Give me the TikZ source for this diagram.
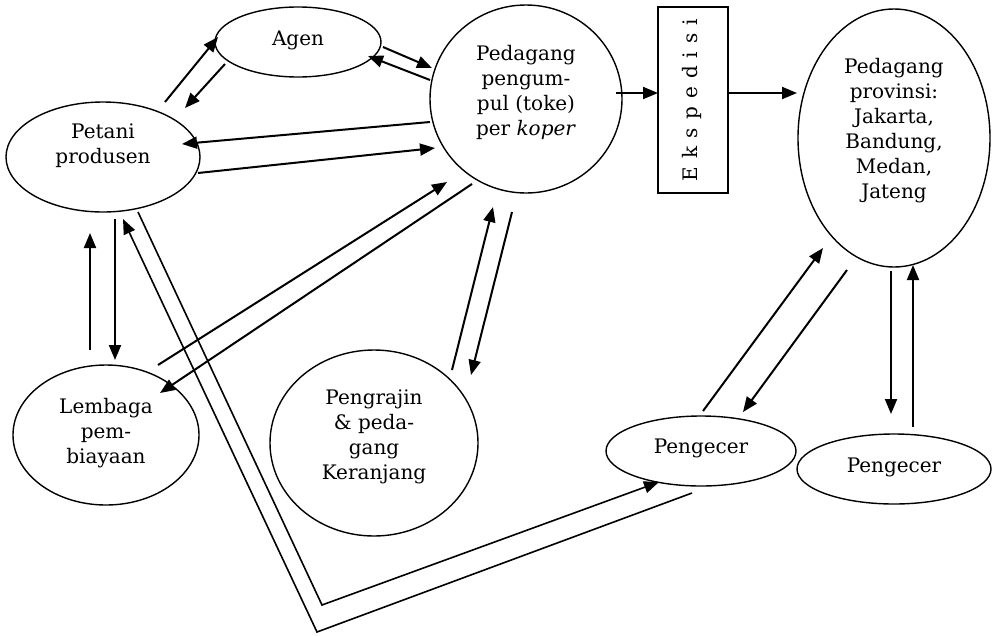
\documentclass[tikz,border=0pt]{standalone}
\usepackage{fontspec}
\setmainfont{DejaVu Serif}
\usetikzlibrary{shapes.geometric,arrows.meta}
\begin{document}
\begin{tikzpicture}[x=1pt,y=-1pt,
  ell/.style={ellipse,draw,line width=1.4pt,inner sep=0pt},
  lbl/.style={align=center,font=\fontsize{20}{25}\selectfont,inner sep=0pt},
  arr/.style={line width=2pt,-{Triangle[length=15pt,width=12pt]}},
  ln/.style={line width=1.6pt}]
\useasboundingbox (0,0) rectangle (992,635);
% nodes
\node[ell,minimum width=166pt,minimum height=70pt] (agen) at (298,42) {};
\node[ell,minimum width=194pt,minimum height=110pt] (petani) at (103,157) {};
\node[ell,minimum width=192pt,minimum height=188pt] (pengumpul) at (526,99) {};
\node[draw,line width=1.4pt,minimum width=70pt,minimum height=186pt,inner sep=0pt] (eksp) at (693,100) {};
\node[ell,minimum width=192pt,minimum height=258pt] (provinsi) at (894,138) {};
\node[ell,minimum width=186pt,minimum height=140pt] (lembaga) at (106,435) {};
\node[ell,minimum width=208pt,minimum height=186pt] (pengrajin) at (374,443) {};
\node[ell,minimum width=190pt,minimum height=70pt] (pengecerA) at (701,451) {};
\node[ell,minimum width=194pt,minimum height=70pt] (pengecerB) at (894,469) {};
% texts
\node[lbl] (tagen) at (298,40) {Agen};
\node[lbl] (tpetani) at (103,146) {Petani\\produsen};
\node[lbl] (tpengumpul) at (526,92) {Pedagang\\pengum-\\pul (toke)\\per \textit{koper}};
\node[lbl,rotate=90,font=\fontsize{20}{25}\selectfont\addfontfeature{LetterSpace=9}] (teksp) at (692,100) {E k s p e d i s i};
\node[lbl] (tprovinsi) at (894,131) {Pedagang\\provinsi:\\Jakarta,\\Bandung,\\Medan,\\Jateng};
\node[lbl] (tlembaga) at (106,433) {Lembaga\\pem-\\biayaan};
\node[lbl] (tpengrajin) at (374,437) {Pengrajin\\\& peda-\\gang\\Keranjang};
\node[lbl] (tpengecerA) at (701,448) {Pengecer};
\node[lbl] (tpengecerB) at (894,467) {Pengecer};
% corner points of the long connectors
\coordinate (cin) at (322,605);
\coordinate (cout) at (317,632);
% connectors
\draw[arr] ([shift={(62,-55)}]petani.center) -- ([shift={(-80,-5)}]agen.center);
\draw[arr] ([shift={(-73,22)}]agen.center) -- ([shift={(82,-49)}]petani.center);
\draw[arr] ([shift={(85,5)}]agen.center) -- ([shift={(-94,-31)}]pengumpul.center);
\draw[arr] ([shift={(-96,-19)}]pengumpul.center) -- ([shift={(70,14)}]agen.center);
\draw[arr] ([shift={(-96,23)}]pengumpul.center) -- ([shift={(79,-13)}]petani.center);
\draw[arr] ([shift={(95,16)}]petani.center) -- ([shift={(-91,49)}]pengumpul.center);
\draw[arr] ([shift={(90,-6)}]pengumpul.center) -- ([shift={(-35,-7)}]eksp.center);
\draw[arr] ([shift={(35,-7)}]eksp.center) -- ([shift={(-97,-45)}]provinsi.center);
\draw[arr] ([shift={(-16,-85)}]lembaga.center) -- ([shift={(-13,76)}]petani.center);
\draw[arr] ([shift={(12,62)}]petani.center) -- ([shift={(9,-75)}]lembaga.center);
\draw[arr] ([shift={(52,-70)}]lembaga.center) -- ([shift={(-79,83)}]pengumpul.center);
\draw[arr] ([shift={(-54,85)}]pengumpul.center) -- ([shift={(54,-42)}]lembaga.center);
\draw[arr] ([shift={(78,-73)}]pengrajin.center) -- ([shift={(-33,108)}]pengumpul.center);
\draw[arr] ([shift={(-14,113)}]pengumpul.center) -- ([shift={(97,-68)}]pengrajin.center);
\draw[ln,-{Triangle[length=15pt,width=12pt]}] ([shift={(35,55)}]petani.center) -- (cin) -- ([shift={(-42,31)}]pengecerA.center);
\draw[ln,-{Triangle[length=15pt,width=12pt]}] ([shift={(-9,42)}]pengecerA.center) -- (cout) -- ([shift={(20,62)}]petani.center);
\draw[arr] ([shift={(2,-40)}]pengecerA.center) -- ([shift={(-71,110)}]provinsi.center);
\draw[arr] ([shift={(-47,132)}]provinsi.center) -- ([shift={(42,-39)}]pengecerA.center);
\draw[arr] ([shift={(-3,133)}]provinsi.center) -- ([shift={(-3,-55)}]pengecerB.center);
\draw[arr] ([shift={(19,-42)}]pengecerB.center) -- ([shift={(19,127)}]provinsi.center);
\end{tikzpicture}
\end{document}
